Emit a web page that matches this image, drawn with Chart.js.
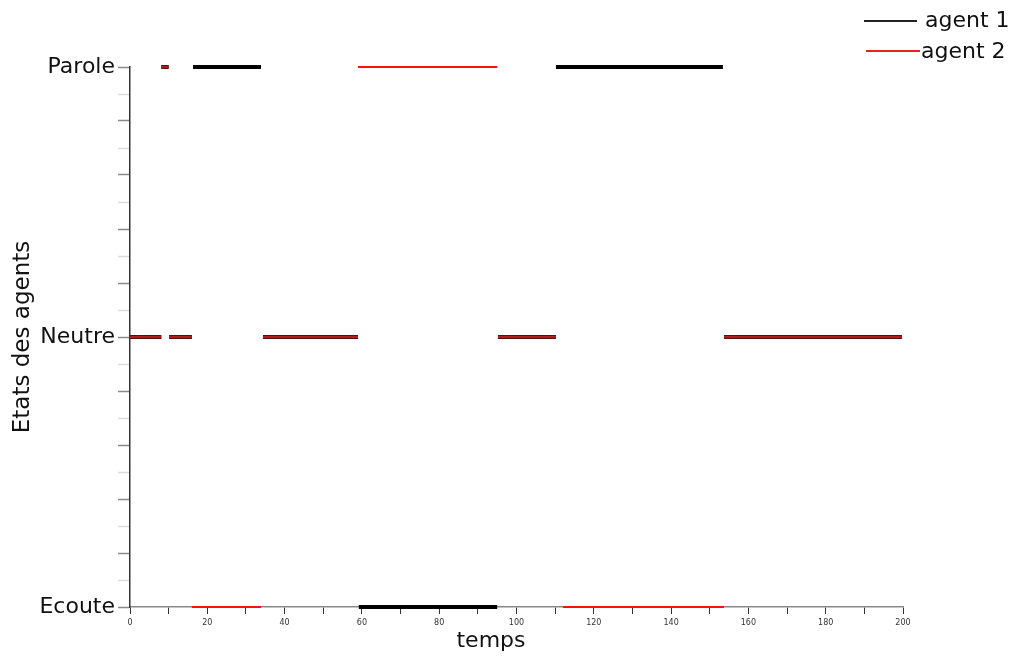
<!DOCTYPE html>
<html>
<head>
<meta charset="utf-8">
<script src="https://cdn.jsdelivr.net/npm/chart.js@4/dist/chart.umd.min.js"></script>
<style>
  html, body { margin: 0; padding: 0; background: #fff; }
  #wrap { width: 1012px; height: 657px; }
</style>
</head>
<body>
<div id="wrap"><canvas id="states-chart"></canvas></div>
<script>
// state codes on the y axis
const stateNames = { '-1': 'Ecoute', '0': 'Neutre', '1': 'Parole' };

// agent 1: start / end times and state of each segment
const agent1Start = [0, 8.1, 10.1, 16.3, 34.4, 59.2, 95.2, 110.2, 153.7];
const agent1End = [8.1, 10.0, 16.0, 33.9, 59.0, 95.0, 110.2, 153.4, 199.7];
const agent1State = [0, 1, 0, 1, 0, -1, 0, 1, 0];

// agent 2
const agent2Start = [0, 8.1, 10.1, 16.0, 34.4, 59.0, 95.2, 112.0, 153.7];
const agent2End = [8.1, 10.0, 16.0, 33.9, 59.0, 95.0, 110.2, 153.7, 199.7];
const agent2State = [0, 1, 0, -1, 0, 1, 0, -1, 0];

const xTicks = [0, 20, 40, 60, 80, 100, 120, 140, 160, 180, 200];

function buildPoints(starts, ends, states) {
    const pts = [];
    for (let i = 0; i < starts.length; i++) {
        pts.push({ x: starts[i], y: states[i] });
        pts.push({ x: ends[i], y: states[i] });
        pts.push({ x: ends[i], y: null });
    }
    return pts;
}

// true when agent 1 is in the same state at time t (the lines overlap)
function sameAsAgent1(t, state) {
    for (let i = 0; i < agent1Start.length; i++) {
        if (t >= agent1Start[i] && t <= agent1End[i] && agent1State[i] === state) {
            return true;
        }
    }
    return false;
}

const fontFamily = '"DejaVu Sans", sans-serif';

// legend and x title drawn by hand
const cornerLegend = {
    id: 'cornerLegend',
    afterDraw(chart) {
        const ctx = chart.ctx;
        ctx.save();
        ctx.font = '22px ' + fontFamily;
        ctx.textBaseline = 'alphabetic';
        ctx.fillStyle = '#111';
        ctx.lineWidth = 2;
        ctx.strokeStyle = '#222';
        ctx.beginPath();
        ctx.moveTo(864, 21);
        ctx.lineTo(917, 21);
        ctx.stroke();
        ctx.fillText(chart.data.datasets[0].label, 925, 27);
        ctx.strokeStyle = '#e8231f';
        ctx.beginPath();
        ctx.moveTo(866, 51);
        ctx.lineTo(920, 51);
        ctx.stroke();
        ctx.fillText(chart.data.datasets[1].label, 921, 58);

        ctx.textAlign = 'center';
        ctx.textBaseline = 'middle';
        ctx.fillText('temps', 491, 641);
        ctx.restore();
    }
};

const ctx = document.getElementById('states-chart').getContext('2d');
const statesChart = new Chart(ctx, {
    type: 'line',
    data: {
        datasets: [{
            label: 'agent 1',
            data: buildPoints(agent1Start, agent1End, agent1State),
            borderColor: '#000',
            borderWidth: 4,
            borderCapStyle: 'butt',
            pointRadius: 0,
            spanGaps: false,
            clip: false,
            order: 2,
        }, {
            label: 'agent 2',
            data: buildPoints(agent2Start, agent2End, agent2State),
            borderColor: '#ff1010',
            borderWidth: 2,
            borderCapStyle: 'butt',
            pointRadius: 0,
            spanGaps: false,
            clip: false,
            order: 1,
            segment: {
                borderColor: c => {
                    const mid = (c.p0.parsed.x + c.p1.parsed.x) / 2;
                    return sameAsAgent1(mid, c.p0.parsed.y) ? '#b01c1c' : '#ff1010';
                },
                borderWidth: c => {
                    const mid = (c.p0.parsed.x + c.p1.parsed.x) / 2;
                    return sameAsAgent1(mid, c.p0.parsed.y) ? 3 : 2;
                },
            },
        }],
    },
    options: {
        responsive: true,
        maintainAspectRatio: false,
        animation: false,
        layout: { padding: { top: 67, right: 109, left: 0, bottom: 0 } },
        plugins: {
            legend: { display: false },
            tooltip: { enabled: false },
        },
        scales: {
            x: {
                type: 'linear',
                min: 0,
                max: 200,
                afterBuildTicks: (scale) => {
                    const t = [];
                    for (let v = 0; v <= 200; v += 10) t.push({ value: v });
                    scale.ticks = t;
                },
                afterFit: (scale) => { scale.height = 50; },
                ticks: {
                    autoSkip: false,
                    maxRotation: 0,
                    padding: 4,
                    color: '#333',
                    font: { family: fontFamily, size: 8 },
                    callback: (v) => (xTicks.includes(v) ? String(v) : ''),
                },
                grid: {
                    drawOnChartArea: false,
                    drawTicks: true,
                    tickLength: 7,
                    tickColor: '#333',
                },
                border: { color: '#888', width: 1.5 },
                title: { display: false },
            },
            y: {
                type: 'linear',
                min: -1,
                max: 1,
                afterBuildTicks: (scale) => {
                    const t = [];
                    for (let k = -10; k <= 10; k++) t.push({ value: k / 10 });
                    scale.ticks = t;
                },
                afterFit: (scale) => { scale.width = 130; },
                ticks: {
                    autoSkip: false,
                    padding: 3,
                    color: '#111',
                    font: { family: fontFamily, size: 22 },
                    callback: (v) => {
                        const k = Math.round(v * 10);
                        return stateNames[String(k / 10)] || '';
                    },
                },
                grid: {
                    drawOnChartArea: false,
                    drawTicks: true,
                    tickLength: 12,
                    tickColor: (c) => (Math.round(c.tick.value * 10) % 2 === 0 ? '#8a8a8a' : '#dcdcdc'),
                    tickWidth: 1.5,
                },
                border: { color: '#333', width: 1.5 },
                title: {
                    display: true,
                    text: 'Etats des agents',
                    color: '#111',
                    font: { family: fontFamily, size: 23 },
                    padding: { top: 9, bottom: 4 },
                },
            },
        },
    },
    plugins: [cornerLegend],
});
</script>
</body>
</html>
